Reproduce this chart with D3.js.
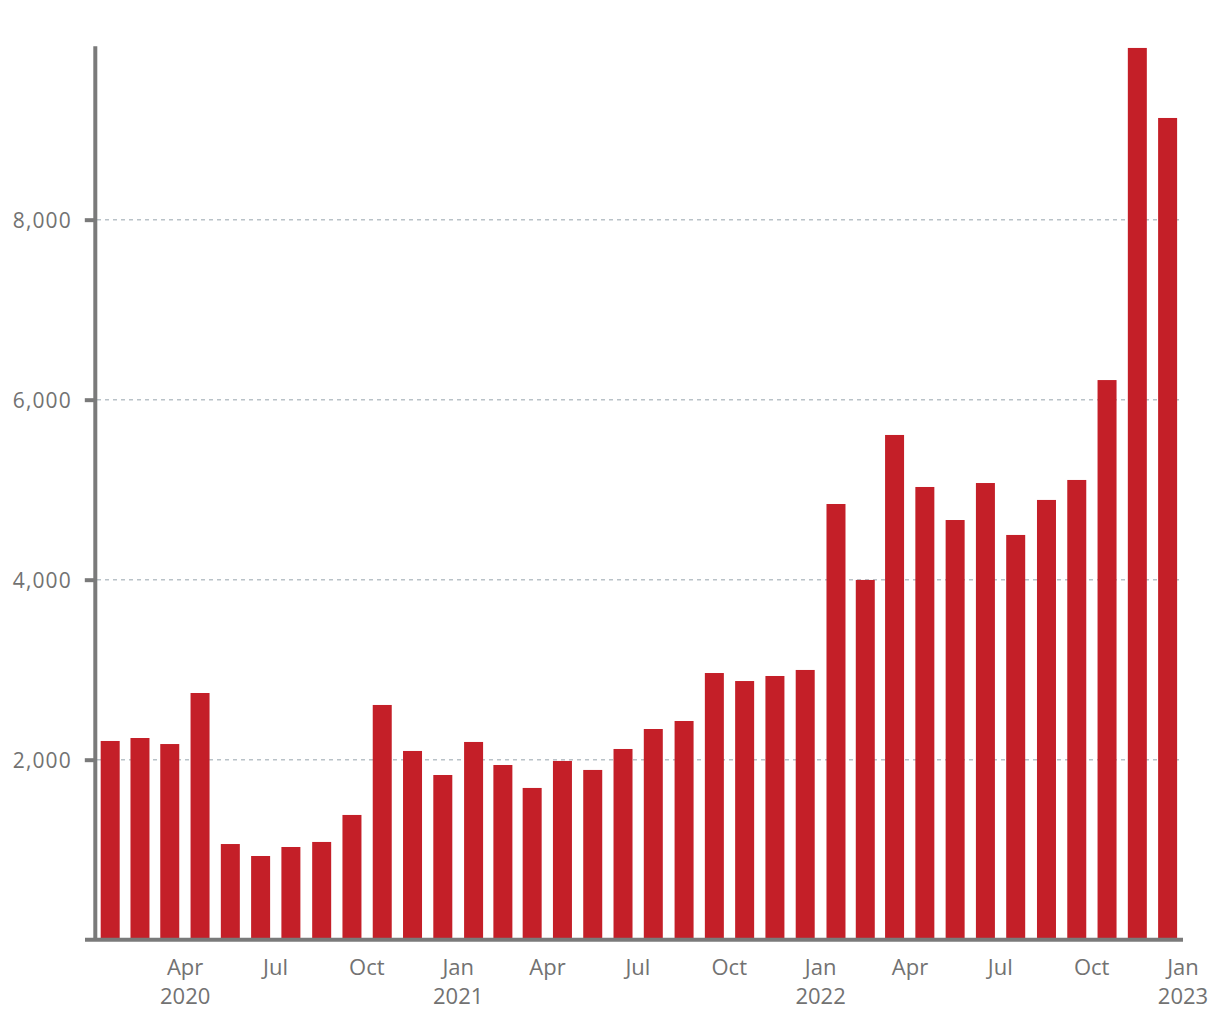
<!DOCTYPE html>
<html>
<head>
<meta charset="utf-8">
<script src="https://cdn.jsdelivr.net/npm/d3@7"></script>
<style>
  html, body { margin: 0; padding: 0; background: #ffffff; }
  svg { display: block; }
  text { font-family: "Open Sans", "Noto Sans", sans-serif; fill: #727272; }
</style>
</head>
<body>
<svg id="chart" width="1220" height="1020"></svg>
<script>
// Monthly values, Jan 2020 – Dec 2022
const months = [
  "2020-01","2020-02","2020-03","2020-04","2020-05","2020-06","2020-07","2020-08","2020-09","2020-10","2020-11","2020-12",
  "2021-01","2021-02","2021-03","2021-04","2021-05","2021-06","2021-07","2021-08","2021-09","2021-10","2021-11","2021-12",
  "2022-01","2022-02","2022-03","2022-04","2022-05","2022-06","2022-07","2022-08","2022-09","2022-10","2022-11","2022-12"
];
const values = [
  2208, 2241, 2174, 2741, 1063, 930, 1030, 1086, 1386, 2608, 2097, 1830,
  2197, 1941, 1686, 1986, 1886, 2119, 2341, 2430, 2963, 2874, 2930, 2997,
  4841, 3997, 5608, 5030, 4663, 5074, 4497, 4886, 5108, 6218, 9908, 9130
];
const yTicks = [2000, 4000, 6000, 8000];
const xTickDates = [
  "2020-04-01","2020-07-01","2020-10-01","2021-01-01","2021-04-01","2021-07-01","2021-10-01",
  "2022-01-01","2022-04-01","2022-07-01","2022-10-01","2023-01-01"
];
const xStart = "2020-01-01", xEnd = "2023-01-01";
const yMax = 9933;

const svg = d3.select("#chart");
const parse = d3.utcParse("%Y-%m-%d");
const parseM = d3.utcParse("%Y-%m");

const x = d3.scaleUtc().domain([parse(xStart), parse(xEnd)]).range([94.8, 1183]);
const y = d3.scaleLinear().domain([0, yMax]).range([939.7, 45.7]);

const axisColor = "#7a7a7a";
const barColor = "#c41f28";
const barWidth = 19;

// gridlines
svg.append("g").selectAll("line").data(yTicks).join("line")
  .attr("x1", 97).attr("x2", 1179)
  .attr("y1", d => y(d)).attr("y2", d => y(d))
  .attr("stroke", "#b9c2c8").attr("stroke-width", 1.6)
  .attr("stroke-dasharray", "4,4");

// bars
const data = months.map((m, i) => {
  const s = parseM(m);
  const e = d3.utcMonth.offset(s, 1);
  return { s, e, v: values[i] };
});
svg.append("g").selectAll("rect").data(data).join("rect")
  .attr("x", d => (x(d.s) + x(d.e)) / 2 - barWidth / 2)
  .attr("width", barWidth)
  .attr("y", d => y(d.v))
  .attr("height", d => y(0) - y(d.v))
  .attr("fill", barColor);

// y axis
const yAxis = d3.axisLeft(y).tickValues(yTicks).tickSize(10).tickSizeOuter(0)
  .tickFormat(d3.format(","));
const gy = svg.append("g").attr("transform", `translate(${x(parse(xStart))},0)`).call(yAxis);
gy.select(".domain").attr("stroke", axisColor).attr("stroke-width", 4);
gy.selectAll(".tick line").attr("stroke", axisColor).attr("stroke-width", 4);
gy.selectAll(".tick text")
  .attr("x", -23).attr("dy", "0.35em")
  .style("font-size", "21px").style("letter-spacing", "1.1px")
  .attr("fill", "#727272");

// x axis line
svg.append("line")
  .attr("x1", 85).attr("x2", x(parse(xEnd)))
  .attr("y1", y(0)).attr("y2", y(0))
  .attr("stroke", axisColor).attr("stroke-width", 4);

// x labels
const fmtMonth = d3.utcFormat("%b");
const fmtYear = d3.utcFormat("%Y");
const xt = xTickDates.map(parse);
const gx = svg.append("g");
gx.selectAll("text.m").data(xt).join("text")
  .attr("class", "m")
  .attr("x", d => x(d)).attr("y", 975)
  .attr("text-anchor", "middle")
  .style("font-size", "22px")
  .text(d => fmtMonth(d));
gx.selectAll("text.yr").data(xt.filter((d, i) => i === 0 || d.getUTCMonth() === 0)).join("text")
  .attr("class", "yr")
  .attr("x", d => x(d)).attr("y", 1003.5)
  .attr("text-anchor", "middle")
  .style("font-size", "22px")
  .text(d => fmtYear(d));
</script>
</body>
</html>
